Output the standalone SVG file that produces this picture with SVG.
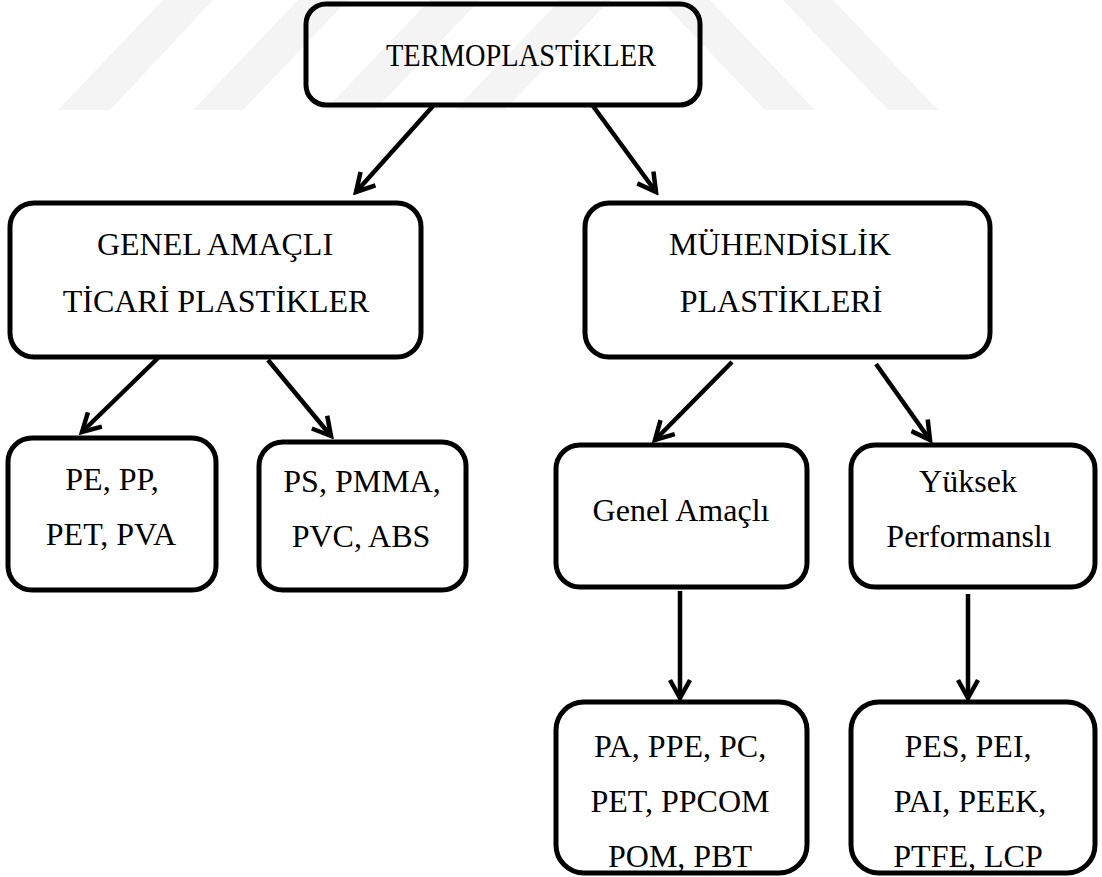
<svg xmlns="http://www.w3.org/2000/svg" width="1102" height="877" viewBox="0 0 1102 877">
<style>
.bx{fill:none;stroke:#000;stroke-width:5;}
.t{font-family:'Liberation Serif','DejaVu Serif',serif;font-size:32px;fill:#000;text-anchor:middle;}
.c{fill:none;stroke:#000;stroke-width:4.5;marker-end:url(#ah);}
.wm{fill:#f4f4f4;}
</style>
<defs>
<marker id="ah" viewBox="0 0 24 24" refX="20" refY="12" markerWidth="24" markerHeight="24" markerUnits="userSpaceOnUse" orient="auto">
<path d="M2,2 L20,12 L2,22" fill="none" stroke="#000" stroke-width="4.5" stroke-linejoin="miter"/>
</marker>
</defs>
<rect width="1102" height="877" fill="#fff"/>
<g id="watermark">
<polygon class="wm" points="58,110 110,110 213,0 163,0"/>
<polygon class="wm" points="193,110 243,110 348,0 298,0"/>
<polygon class="wm" points="325,110 375,110 480,0 430,0"/>
<polygon class="wm" points="455,110 505,110 610,0 560,0"/>
<polygon class="wm" points="660,0 710,0 815,110 765,110"/>
<polygon class="wm" points="783,0 833,0 938,110 888,110"/>
</g>
<g id="connectors">
<line class="c" x1="433" y1="106" x2="356" y2="192"/>
<line class="c" x1="593" y1="106" x2="656" y2="192"/>
<line class="c" x1="158" y1="358" x2="82" y2="432"/>
<line class="c" x1="268" y1="360" x2="331" y2="436"/>
<line class="c" x1="732" y1="362" x2="655" y2="440"/>
<line class="c" x1="876" y1="364" x2="930" y2="440"/>
<line class="c" x1="680" y1="591" x2="680" y2="698"/>
<line class="c" x1="968" y1="594" x2="968" y2="698"/>
</g>
<g id="termoplastikler">
<rect class="bx" x="306" y="4" width="394" height="101" rx="20"/>
<text class="t" x="521" y="66" textLength="270" lengthAdjust="spacingAndGlyphs">TERMOPLASTİKLER</text>
</g>
<g id="genel-amacli-ticari">
<rect class="bx" x="10" y="203" width="411" height="154" rx="24"/>
<text class="t" x="215" y="255">GENEL AMAÇLI</text>
<text class="t" x="216" y="312">TİCARİ PLASTİKLER</text>
</g>
<g id="muhendislik">
<rect class="bx" x="585" y="203" width="405" height="154" rx="24"/>
<text class="t" x="780" y="255">MÜHENDİSLİK</text>
<text class="t" x="781" y="312">PLASTİKLERİ</text>
</g>
<g id="pe-pp">
<rect class="bx" x="8" y="438" width="208" height="152" rx="24"/>
<text class="t" x="112" y="490">PE, PP,</text>
<text class="t" x="111" y="545">PET, PVA</text>
</g>
<g id="ps-pmma">
<rect class="bx" x="259" y="442" width="207" height="148" rx="24"/>
<text class="t" x="362" y="492">PS, PMMA,</text>
<text class="t" x="361" y="547">PVC, ABS</text>
</g>
<g id="genel-amacli">
<rect class="bx" x="556" y="445" width="251" height="142" rx="24"/>
<text class="t" x="681" y="521">Genel Amaçlı</text>
</g>
<g id="yuksek-performansli">
<rect class="bx" x="851" y="445" width="244" height="142" rx="24"/>
<text class="t" x="968" y="492">Yüksek</text>
<text class="t" x="969" y="547">Performanslı</text>
</g>
<g id="pa-ppe">
<rect class="bx" x="556" y="702" width="251" height="171" rx="28"/>
<text class="t" x="680" y="757">PA, PPE, PC,</text>
<text class="t" x="680" y="812">PET, PPCOM</text>
<text class="t" x="680" y="867">POM, PBT</text>
</g>
<g id="pes-pei">
<rect class="bx" x="851" y="702" width="244" height="171" rx="28"/>
<text class="t" x="968" y="757">PES, PEI,</text>
<text class="t" x="970" y="812">PAI, PEEK,</text>
<text class="t" x="968" y="867">PTFE, LCP</text>
</g>
</svg>
